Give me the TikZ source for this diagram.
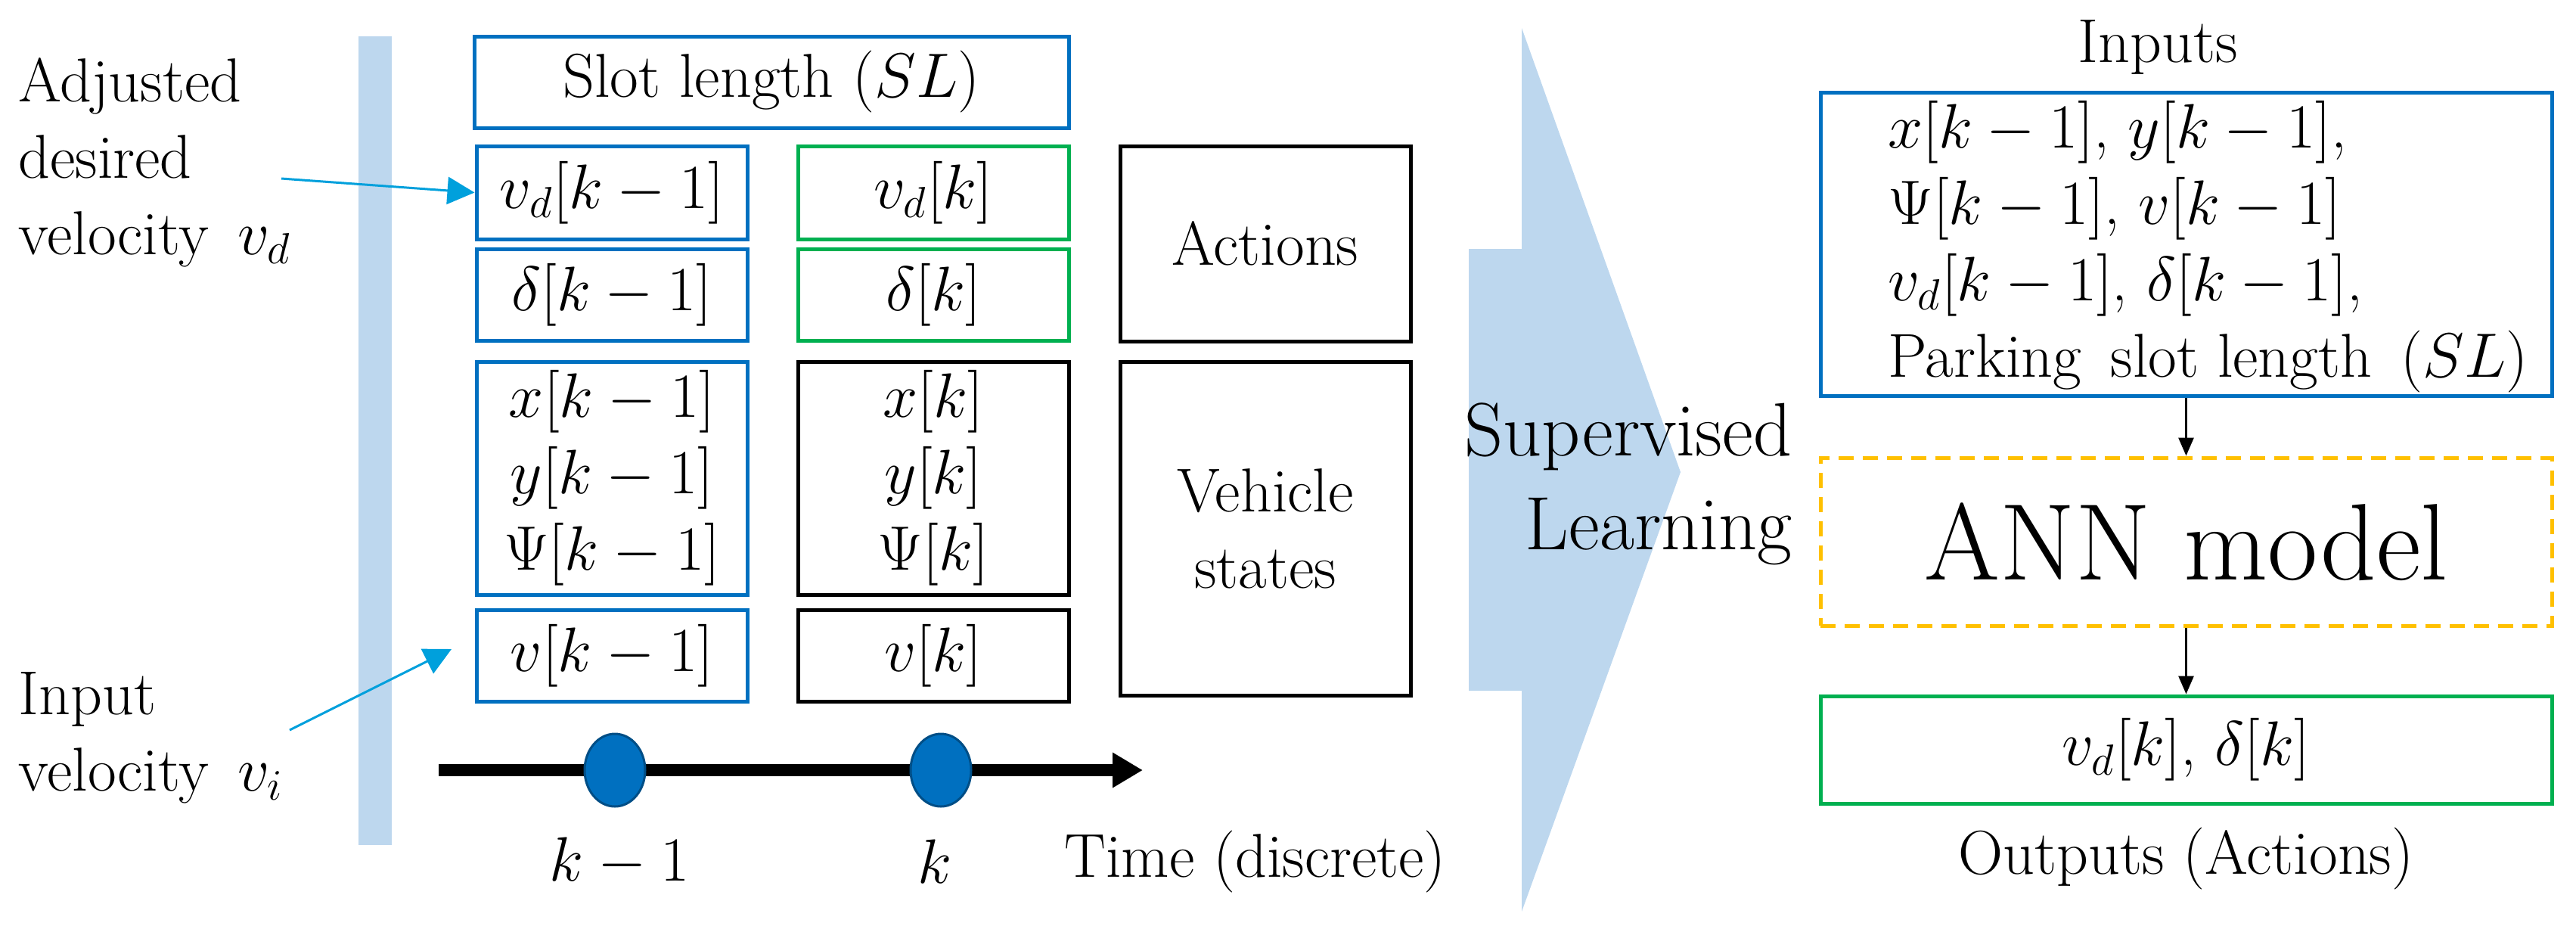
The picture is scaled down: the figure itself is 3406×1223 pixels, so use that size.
\documentclass[tikz,border=0pt]{standalone}
\usetikzlibrary{shapes.geometric,arrows.meta}

\definecolor{boxblue}{RGB}{0,112,192}
\definecolor{boxgreen}{RGB}{0,176,80}
\definecolor{boxorange}{RGB}{255,192,0}
\definecolor{paleblue}{RGB}{189,215,238}
\definecolor{pointer}{RGB}{0,160,220}

\tikzset{every picture/.style={line width=1.25pt}}
\tikzset{
  txt/.style={inner sep=0pt, font=\fontsize{20.5}{25.2}\selectfont},
  cell/.style={draw, txt, minimum width=89.5pt, minimum height=30.25pt},
  bluecell/.style={cell, draw=boxblue},
  greencell/.style={cell, draw=boxgreen},
  wide/.style={draw, txt, minimum width=241.75pt},
}

\begin{document}
\begin{tikzpicture}[x=0.25pt,y=0.25pt,yscale=-1,xscale=1]
\useasboundingbox (0,0) rectangle (3406,1223);

%Shape: pale bar and chevron
\fill [paleblue] (474,48) rectangle (518,1117);
\fill [paleblue] (1942,329) -- (2012,329) -- (2012,37) -- (2222,624) -- (2012,1205) -- (2012,913) -- (1942,913) -- cycle;

% Text Node
\node [bluecell, minimum width=196.5pt] (slot) at (1020,108.5) {Slot length ($SL$)};
\node [bluecell, minimum height=30.75pt] (vdprev) at (809,254.5) {$v_d[k-1]$};
\node [bluecell] (dprev) at (809,389.5) {$\delta[k-1]$};
\node [bluecell, minimum height=77pt, align=center] (xprev) at (809,632) {$x[k-1]$\\$y[k-1]$\\$\Psi[k-1]$};
\node [bluecell] (vprev) at (809,866.5) {$v[k-1]$};
\node [greencell, minimum height=30.75pt] (vdcur) at (1234,254.5) {$v_d[k]$};
\node [greencell] (dcur) at (1234,389.5) {$\delta[k]$};
\node [cell, minimum height=77pt, align=center] (xcur) at (1234,632) {$x[k]$\\$y[k]$\\$\Psi[k]$};
\node [cell] (vcur) at (1234,866.5) {$v[k]$};
\node [cell, minimum width=96pt, minimum height=64.5pt] (actions) at (1673,322) {Actions};
\node [cell, minimum width=96pt, minimum height=110.25pt, align=center] (states) at (1673,698.5) {Vehicle\\states};

% Text Node
\node [txt, anchor=west, align=left] (adjlabel) at (22,215) {Adjusted\\desired\\velocity\, $v_d$};
\node [txt, anchor=west, align=left] (inlabel) at (22,975) {Input\\velocity\, $v_i$};
\coordinate (adjtail) at (372,236);
\coordinate (intail) at (383,965);
\draw [pointer, line width=0.75pt, -{Triangle[length=9pt,width=9pt]}] (adjtail) -- (vdprev.west);
\draw [pointer, line width=0.75pt, -{Triangle[length=9pt,width=9pt]}] (intail) -- (597,858);

%Straight Lines: time axis
\coordinate (tstart) at (580,1018);
\coordinate (tend) at (1511,1018);
\draw [line width=4pt, -{Triangle[length=10pt,width=11pt]}] (tstart) -- (tend);
\node [ellipse, fill=boxblue, draw=boxblue!70!black, line width=0.75pt, minimum width=20pt, minimum height=24pt, inner sep=0pt] (dotprev) at (813,1018) {};
\node [ellipse, fill=boxblue, draw=boxblue!70!black, line width=0.75pt, minimum width=20pt, minimum height=24pt, inner sep=0pt] (dotcur) at (1244,1018) {};
\node [txt] (kprev) at (819,1139) {$k-1$};
\node [txt] (kcur) at (1236,1139) {$k$};
\node [txt, anchor=west] (timelabel) at (1405,1139) {Time (discrete)};

% Text Node
\node [txt, font=\fontsize{25}{31}\selectfont, anchor=east, align=right] (learn) at (2372,640) {Supervised\\Learning};

%Right hand side
\node [txt] (inlab) at (2853,62) {Inputs};
\node [wide, draw=boxblue, minimum height=100.25pt] (inputs) at (2890.5,322.5) {};
\node [txt, anchor=west, align=left] (inputtext) at (2494,326) {$x[k-1]$, $y[k-1]$,\\$\Psi[k-1]$, $v[k-1]$\\$v_d[k-1]$, $\delta[k-1]$,\\Parking\, slot length\, ($SL$)};
\node [wide, draw=boxorange, dashed, dash pattern=on 5pt off 3pt, minimum height=55.5pt, font=\fontsize{36}{40}\selectfont] (ann) at (2890.5,716) {ANN model};
\node [wide, draw=boxgreen, minimum height=35.5pt] (outputs) at (2890.5,991) {$v_d[k]$, $\delta[k]$};
\node [txt] (outlab) at (2890.5,1135) {Outputs (Actions)};
\draw [line width=0.75pt, -{Triangle[length=6pt,width=5pt]}] (inputs) -- (ann);
\draw [line width=0.75pt, -{Triangle[length=6pt,width=5pt]}] (ann) -- (outputs);

\end{tikzpicture}
\end{document}
